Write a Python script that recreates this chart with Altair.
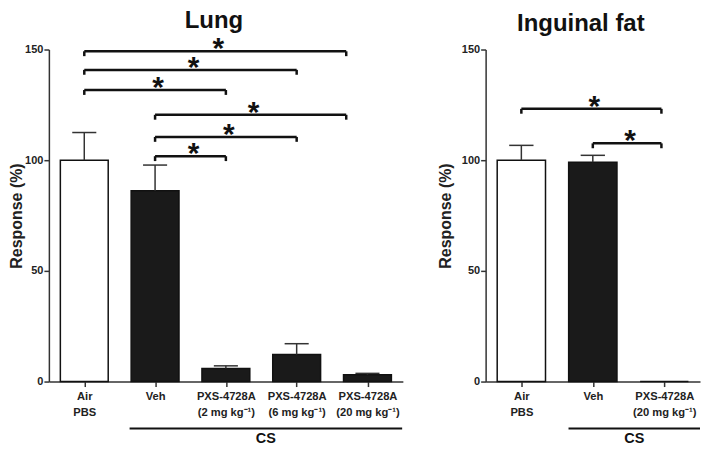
import altair as alt
import pandas as pd

FONT = "Liberation Sans"
H = 333

# ---------------- Lung panel data ----------------
lung_pos = [0, 1, 2, 3, 4]
lung_mean = [100.0, 86.2, 5.9, 12.2, 3.1]
lung_err = [12.5, 11.6, 1.2, 4.9, 0.6]
lung_fill = ["white", "#1a1a1a", "#1a1a1a", "#1a1a1a", "#1a1a1a"]
lung_labels = [["Air", "PBS"], ["Veh"], ["PXS-4728A", "(2 mg kg⁻¹)"],
               ["PXS-4728A", "(6 mg kg⁻¹)"], ["PXS-4728A", "(20 mg kg⁻¹)"]]
lung_br_x1 = [0, 0, 0, 1, 1, 1]
lung_br_x2 = [3.7, 3, 2, 3.7, 3, 2]
lung_br_y = [149.2, 140.8, 131.7, 120.5, 110.5, 101.8]
lung_cs = [0.64, 4.49]

# ---------------- Inguinal fat panel data ----------------
fat_pos = [0, 1, 2]
fat_mean = [100.0, 99.1, 0.0]
fat_err = [6.7, 3.1, 0.0]
fat_fill = ["white", "#1a1a1a", "#1a1a1a"]
fat_labels = [["Air", "PBS"], ["Veh"], ["PXS-4728A", "(20 mg kg⁻¹)"]]
fat_br_x1 = [0, 1]
fat_br_x2 = [1.96, 1.96]
fat_br_y = [123.2, 107.6]
fat_cs = [0.66, 2.5]

y_ticks = [0, 50, 100, 150]


def label_expr(labels):
    parts = []
    for lab in labels:
        parts.append("[" + ",".join("'" + s + "'" for s in lab) + "]")
    return "[" + ",".join(parts) + "][datum.value]"


def panel(title, pos, mean, err, fill, labels, bx1, bx2, by, cs, width,
          title_offset, ytitle_pad):
    n = len(pos)
    xscale = alt.Scale(domain=[-0.5, n - 0.5], nice=False, zero=False)
    yscale = alt.Scale(domain=[0, 150], nice=False)
    xaxis = alt.Axis(values=pos, labelExpr=label_expr(labels), grid=False,
                     tickSize=5, tickWidth=1.5, tickColor="#333",
                     domainColor="#333", domainWidth=1.5,
                     labelFont=FONT, labelFontSize=11.2, labelFontWeight="bold",
                     labelColor="#222", labelPadding=4, labelLineHeight=16.5,
                     labelAngle=0, title=None)
    yaxis = alt.Axis(values=y_ticks, grid=False, tickSize=5, tickWidth=1.5,
                     tickColor="#333", domainColor="#333", domainWidth=1.5,
                     labelFont=FONT, labelFontSize=11, labelFontWeight="bold",
                     labelColor="#222", labelPadding=1,
                     title="Response (%)", titleFont=FONT, titleFontSize=16,
                     titleFontWeight="bold", titleColor="#222",
                     titlePadding=ytitle_pad)

    def X(f):
        return alt.X(f, type="quantitative", scale=xscale, axis=xaxis)

    def Y(f):
        return alt.Y(f, type="quantitative", scale=yscale, axis=yaxis)

    half = 0.338
    cap = 0.17
    bars_df = pd.DataFrame({"pos": pos, "mean": mean, "err": err, "fill": fill})
    bars_df["x1"] = bars_df["pos"] - half
    bars_df["x2"] = bars_df["pos"] + half
    bars_df["top"] = bars_df["mean"] + bars_df["err"]
    bars_df["c1"] = bars_df["pos"] - cap
    bars_df["c2"] = bars_df["pos"] + cap
    err_df = bars_df[bars_df["err"] > 0]

    bars = alt.Chart(bars_df).mark_bar(stroke="#111", strokeWidth=1.5).encode(
        x=X("x1"), x2="x2", y=Y("mean"), y2=alt.datum(0),
        fill=alt.Fill("fill:N", scale=None))
    ebar = alt.Chart(err_df).mark_rule(color="#333", strokeWidth=1.5).encode(
        x=X("pos"), y=Y("mean"), y2="top")
    ecap = alt.Chart(err_df).mark_rule(color="#333", strokeWidth=1.5).encode(
        x=X("c1"), x2="c2", y=Y("top"))

    br_df = pd.DataFrame({"x1": bx1, "x2": bx2, "y": by})
    br_df["mid"] = (br_df["x1"] + br_df["x2"]) / 2
    ends_df = pd.DataFrame({"x": list(bx1) + list(bx2),
                            "y": list(by) + list(by)})
    ends_df["ylow"] = ends_df["y"] - 2.2
    brh = alt.Chart(br_df).mark_rule(color="#111", strokeWidth=2.5).encode(
        x=X("x1"), x2="x2", y=Y("y"))
    brv = alt.Chart(ends_df).mark_rule(color="#111", strokeWidth=2.5).encode(
        x=X("x"), y=Y("ylow"), y2="y")
    stars = alt.Chart(br_df).mark_text(
        text="*", font=FONT, fontSize=30, fontWeight="bold", color="#111",
        baseline="alphabetic", dy=7, dx=3).encode(x=X("mid"), y=Y("y"))

    cs_df = pd.DataFrame({"x1": [cs[0]], "x2": [cs[1]],
                          "mid": [(cs[0] + cs[1]) / 2], "label": ["CS"]})
    csl = alt.Chart(cs_df).mark_rule(color="#111", strokeWidth=2).encode(
        x=X("x1"), x2="x2", y=alt.value(H + 47))
    cst = alt.Chart(cs_df).mark_text(
        font=FONT, fontSize=14.5, fontWeight="bold", color="#111",
        baseline="middle").encode(x=X("mid"), y=alt.value(H + 58),
                                  text="label:N")

    return alt.layer(bars, ebar, ecap, brh, brv, stars, csl, cst).properties(
        width=width, height=H,
        title=alt.TitleParams(title, font=FONT, fontSize=24, fontWeight="bold",
                              color="#111", anchor="middle", frame="group",
                              dx=-12, offset=title_offset))


left = panel("Lung", lung_pos, lung_mean, lung_err, lung_fill, lung_labels,
             lung_br_x1, lung_br_x2, lung_br_y, lung_cs, 355, 1, 0)
right = panel("Inguinal fat", fat_pos, fat_mean, fat_err, fat_fill, fat_labels,
              fat_br_x1, fat_br_x2, fat_br_y, fat_cs, 215, 8, 8)

chart = alt.hconcat(left, right, spacing=83, bounds="flush").properties(
    padding=0, background="white"
).configure_view(stroke=None)

chart.save("out.html", embed_options={"renderer": "svg", "actions": False})
